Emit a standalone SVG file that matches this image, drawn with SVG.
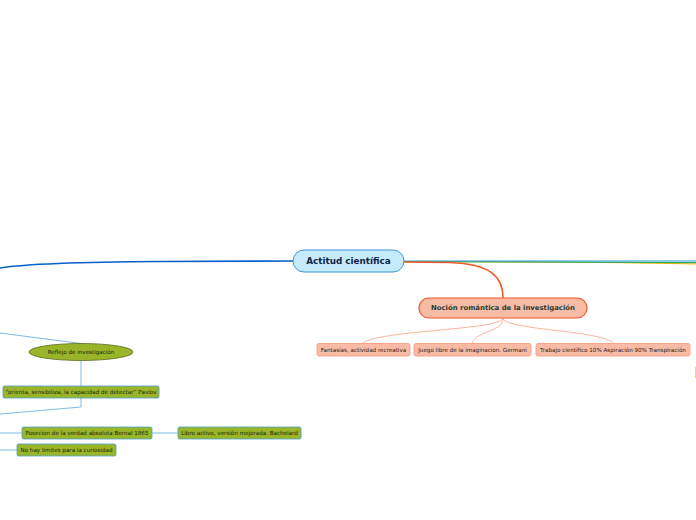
<svg xmlns="http://www.w3.org/2000/svg" width="696" height="520" viewBox="0 0 696 520">
<style>
text{font-family:"DejaVu Sans","Verdana",sans-serif;text-anchor:middle;dominant-baseline:central}
.sub{fill:#f8bba6;stroke:#f5a58a;stroke-width:1}
.subt{font-size:5.6px;fill:#2a1a12}
.grn{fill:#9ab52a;stroke:#4f9fcf;stroke-width:0.8}
.grnt{font-size:5.6px;fill:#141f04}
.lb{fill:none;stroke:#7fbbe0;stroke-width:1}
.lo{fill:none;stroke:#f7b59e;stroke-width:1}
</style>
<rect width="696" height="520" fill="#ffffff"/>
<g id="connectors">
<path d="M293,261 L160,261.5 C70,262 25,264 0,268" fill="none" stroke="#0b5ec9" stroke-width="1.6"/>
<path d="M404,261.5 L560,262 C620,262.5 660,263 696,264" fill="none" stroke="#f5b400" stroke-width="1.2"/>
<path d="M404,261.5 L500,261.8 C600,262.3 650,262.5 696,262.7" fill="none" stroke="#3aa860" stroke-width="1.2"/>
<path d="M404,261 L696,261" fill="none" stroke="#2a9fd6" stroke-width="1.2"/>
<path d="M404,262 L450,262.5 C490,264 503,276 503,298" fill="none" stroke="#f05a28" stroke-width="1.5"/>
<path class="lo" d="M503,318 C503,330 380,330 363,343"/>
<path class="lo" d="M503,318 C503,332 478,330 472,343"/>
<path class="lo" d="M503,318 C503,330 600,330 613,343"/>
<path class="lb" d="M0,333 L81,343.5"/>
<path class="lb" d="M81,361 L81,386"/>
<path class="lb" d="M81,398 L81,407 L0,414"/>
<path class="lb" d="M0,433 L22,433"/>
<path class="lb" d="M152,433 L178,433"/>
<path class="lb" d="M0,450 L17,450"/>
<path d="M695.5,367 L695.5,378" fill="none" stroke="#f7d27a" stroke-width="1"/>
</g>
<g id="n-central">
<rect x="293" y="250" width="111" height="22" rx="11" fill="#c5eafc" stroke="#3b97d3" stroke-width="1"/>
<text x="348.5" y="261" font-size="8.8" font-weight="bold" fill="#0d2547">Actitud científica</text>
</g>
<g id="n-nocion">
<rect x="419" y="298" width="168" height="20" rx="10" fill="#f8bba6" stroke="#f05a28" stroke-width="1.2"/>
<text x="503" y="308" font-size="6.9" font-weight="bold" fill="#1e3d2e">Noción romántica de la investigación</text>
</g>
<g id="n-fantasias">
<rect class="sub" x="317" y="343.5" width="93" height="12.5" rx="2"/>
<text class="subt" x="363.5" y="350">Fantasías, actividad recreativa</text>
</g>
<g id="n-juego">
<rect class="sub" x="414" y="343.5" width="117" height="12.5" rx="2"/>
<text class="subt" x="472.5" y="350">Juego libre de la imaginacion. Germani</text>
</g>
<g id="n-trabajo">
<rect class="sub" x="536" y="343.5" width="154" height="12.5" rx="2"/>
<text class="subt" x="613" y="350">Trabajo científico 10% Aspiración 90% Transpiración</text>
</g>
<g id="n-reflejo">
<ellipse cx="81" cy="352" rx="52" ry="8.5" fill="#9ab52a" stroke="#55691a" stroke-width="0.8"/>
<text class="grnt" x="81" y="352">Reflejo de investigación</text>
</g>
<g id="n-pavlov">
<rect class="grn" x="3" y="386" width="156" height="12" rx="1.5"/>
<text class="grnt" x="81" y="392">“orienta, sensibiliza, la capacidad de detectar” Pavlov</text>
</g>
<g id="n-posecion">
<rect class="grn" x="22" y="427" width="130" height="12" rx="1.5"/>
<text class="grnt" x="87" y="433">Posecion de la verdad absoluta Bernal 1865</text>
</g>
<g id="n-libro">
<rect class="grn" x="178" y="427" width="123" height="12" rx="1.5"/>
<text class="grnt" x="239.5" y="433">Libro activo, versión mejorada. Bachelard</text>
</g>
<g id="n-limites">
<rect class="grn" x="17" y="444" width="99" height="12" rx="1.5"/>
<text class="grnt" x="66.5" y="450">No hay limites para la curiosidad</text>
</g>
</svg>
